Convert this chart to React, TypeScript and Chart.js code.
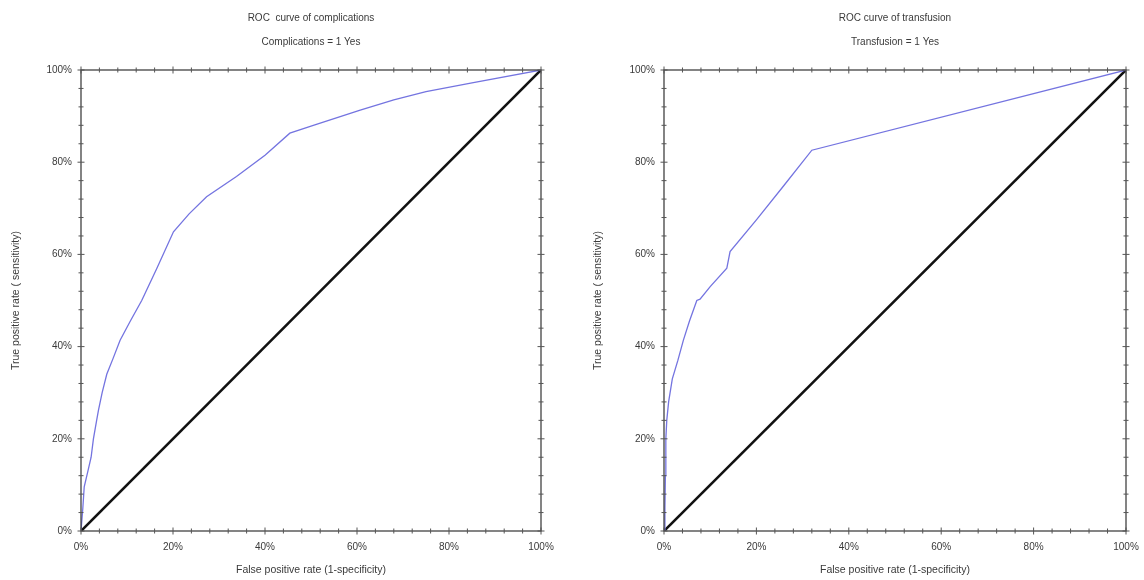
import React, { useEffect, useRef } from "react";
import { Chart, registerables } from "chart.js";

Chart.register(...registerables);

// Complications ROC curve (FPR %, TPR %)
const compFpr = [0, 0.4, 0.7, 1.5, 2.2, 2.7, 3.4, 3.8, 4.6, 5.6, 7, 8.5, 10.7, 13.2, 16.5, 20.1, 23.5, 27.3, 33.8, 40, 45.4, 50.5, 60.7, 68, 75, 85, 100];
const compTpr = [0, 5, 9.6, 13, 16, 20, 24, 26.2, 30, 34, 37.5, 41.4, 45.5, 50, 57, 64.9, 68.8, 72.5, 76.9, 81.5, 86.3, 88, 91.3, 93.5, 95.3, 97.2, 100];

// Transfusion ROC curve (FPR %, TPR %)
const transFpr = [0, 0.2, 0.3, 0.4, 0.6, 1, 1.8, 3, 4.2, 5.5, 7.1, 7.8, 10, 13.6, 14.3, 20, 26, 32, 100];
const transTpr = [0, 5, 12, 20, 24, 28, 33, 37, 41.4, 45.5, 50, 50.3, 53, 57, 60.6, 67.5, 75, 82.6, 100];

const refFpr = [0, 100];
const refTpr = [0, 100];

const tickValues = [0, 20, 40, 60, 80, 100];

const FONT = "'Liberation Sans', Arial, sans-serif";
const TEXT = "#3a3a3a";

const framePlugin = {
  id: "frameTicks",
  afterDraw(chart: any) {
    const { ctx, chartArea, scales } = chart;
    const { left, right, top, bottom } = chartArea;
    ctx.save();
    ctx.strokeStyle = "#333";
    ctx.lineWidth = 1.2;
    ctx.strokeRect(left, top, right - left, bottom - top);
    ctx.lineWidth = 1;
    ctx.strokeStyle = "#555";
    ctx.beginPath();
    for (let v = 0; v <= 100; v += 4) {
      const major = v % 20 === 0;
      const len = major ? 3.5 : 2.5;
      const px = scales.x.getPixelForValue(v);
      ctx.moveTo(px, bottom - len);
      ctx.lineTo(px, bottom + len);
      ctx.moveTo(px, top - len);
      ctx.lineTo(px, top + len);
      const py = scales.y.getPixelForValue(v);
      ctx.moveTo(left - len, py);
      ctx.lineTo(left + len, py);
      ctx.moveTo(right - len, py);
      ctx.lineTo(right + len, py);
    }
    ctx.stroke();
    ctx.restore();
  },
};

function makeConfig(
  title: string,
  subtitle: string,
  fpr: number[],
  tpr: number[],
  yWidth: number,
  padRight: number,
  yTitlePad: number
): any {
  const curve = fpr.map((x, i) => ({ x, y: tpr[i] }));
  const ref = refFpr.map((x, i) => ({ x, y: refTpr[i] }));
  return {
    type: "scatter",
    data: {
      datasets: [
        {
          data: ref,
          showLine: true,
          borderColor: "#111",
          borderWidth: 2.6,
          pointRadius: 0,
          order: 2,
        },
        {
          data: curve,
          showLine: true,
          borderColor: "#7474e0",
          borderWidth: 1.3,
          pointRadius: 0,
          order: 1,
        },
      ],
    },
    options: {
      responsive: false,
      animation: false,
      layout: { padding: { left: 0, right: padRight, top: 0, bottom: 0 } },
      plugins: {
        legend: { display: false },
        tooltip: { enabled: false },
        title: {
          display: true,
          text: title,
          color: TEXT,
          fullSize: false,
          font: { family: FONT, size: 10, weight: "normal", lineHeight: 1.2 },
          padding: { top: 12, bottom: 12 },
        },
        subtitle: {
          display: true,
          text: subtitle,
          color: TEXT,
          fullSize: false,
          font: { family: FONT, size: 10, weight: "normal", lineHeight: 1.2 },
          padding: { top: 0, bottom: 22 },
        },
      },
      scales: {
        x: {
          type: "linear",
          min: 0,
          max: 100,
          afterBuildTicks: (s: any) => {
            s.ticks = tickValues.map((v) => ({ value: v }));
          },
          ticks: {
            autoSkip: false,
            maxRotation: 0,
            padding: 10,
            color: TEXT,
            font: { family: FONT, size: 10 },
            callback: (v: any) => v + "%",
          },
          grid: { display: false, drawTicks: false },
          border: { display: false },
          title: {
            display: true,
            text: "False positive rate (1-specificity)",
            color: TEXT,
            font: { family: FONT, size: 10.5 },
            padding: { top: 0, bottom: 4 },
          },
          afterFit: (s: any) => {
            s.height = 49;
            s.paddingLeft = 0;
            s.paddingRight = 0;
          },
        },
        y: {
          type: "linear",
          min: 0,
          max: 100,
          afterBuildTicks: (s: any) => {
            s.ticks = tickValues.map((v) => ({ value: v }));
          },
          ticks: {
            autoSkip: false,
            padding: 9,
            color: TEXT,
            font: { family: FONT, size: 10 },
            callback: (v: any) => v + "%",
          },
          grid: { display: false, drawTicks: false },
          border: { display: false },
          title: {
            display: true,
            text: "True positive rate ( sensitivity)",
            color: TEXT,
            font: { family: FONT, size: 10.5 },
            padding: { top: yTitlePad, bottom: 0 },
          },
          afterFit: (s: any) => {
            s.width = yWidth;
            s.paddingTop = 0;
            s.paddingBottom = 0;
          },
        },
      },
    },
    plugins: [framePlugin],
  };
}

function RocChart(props: { cfg: () => any; left: number }) {
  const ref = useRef<HTMLCanvasElement | null>(null);
  useEffect(() => {
    if (!ref.current) return;
    const chart = new Chart(ref.current, props.cfg());
    return () => chart.destroy();
  }, []);
  return (
    <canvas
      ref={ref}
      width={572}
      height={580}
      style={{ position: "absolute", left: props.left, top: 0, width: 572, height: 580, display: "block" }}
    />
  );
}

export default function App() {
  return (
    <div style={{ position: "absolute", left: 0, top: 0, width: 1144, height: 580, background: "#fff", overflow: "hidden" }}>
      <RocChart
        left={0}
        cfg={() => makeConfig("ROC  curve of complications", "Complications = 1 Yes", compFpr, compTpr, 81, 31, 10)}
      />
      <RocChart
        left={572}
        cfg={() => makeConfig("ROC curve of transfusion", "Transfusion = 1 Yes", transFpr, transTpr, 92, 18, 20)}
      />
    </div>
  );
}
